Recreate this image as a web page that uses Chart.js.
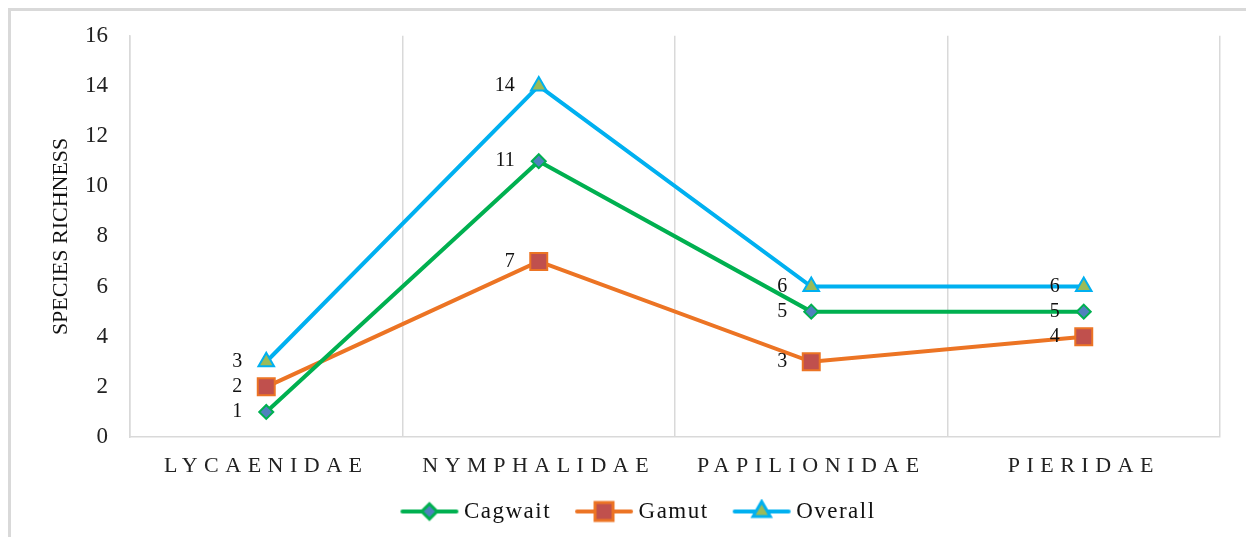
<!DOCTYPE html>
<html>
<head>
<meta charset="utf-8">
<script src="https://cdn.jsdelivr.net/npm/chart.js@4"></script>
<style>
  html, body { margin: 0; padding: 0; background: #fff; }
  #frame { position: absolute; left: 8px; top: 8px; width: 1260px; height: 560px;
           border-left: 3px solid #d9d9d9; border-top: 3px solid #d9d9d9; }
  #wrap { position: absolute; left: 0; top: 0; width: 1246px; height: 537px; }
</style>
</head>
<body>
<div id="frame"></div>
<div id="wrap"><canvas id="chart"></canvas></div>
<script>
// families on the x axis
const families = ["LYCAENIDAE", "NYMPHALIDAE", "PAPILIONIDAE", "PIERIDAE"];

// species richness per site
const cagwait = [1, 11, 5, 5];
const gamut = [2, 7, 3, 4];
const overall = [3, 14, 6, 6];

const yTicks = [0, 2, 4, 6, 8, 10, 12, 14, 16];

const serif = "'Liberation Serif', 'Times New Roman', serif";

// little line + marker picture for the legend
function legendIcon(color, fill, style, r) {
  const c = document.createElement("canvas");
  c.width = 84;
  c.height = 26;
  const ctx = c.getContext("2d");
  ctx.strokeStyle = color;
  ctx.lineWidth = 4;
  ctx.lineCap = "round";
  ctx.beginPath();
  ctx.moveTo(22, 13);
  ctx.lineTo(76, 13);
  ctx.stroke();
  Chart.helpers.drawPoint(ctx, { pointStyle: style, radius: r, rotation: 0, borderWidth: 2 }, 49, 13);
  ctx.fillStyle = fill;
  ctx.fill();
  ctx.lineWidth = 2;
  ctx.stroke();
  return c;
}

// numbers written to the left of each point
const pointLabels = {
  id: "pointLabels",
  afterDatasetsDraw(chart) {
    const ctx = chart.ctx;
    ctx.save();
    ctx.font = "20px " + serif;
    ctx.fillStyle = "#111";
    ctx.textAlign = "right";
    ctx.textBaseline = "middle";
    chart.data.datasets.forEach((ds, i) => {
      chart.getDatasetMeta(i).data.forEach((pt, j) => {
        ctx.fillText(String(ds.data[j]), pt.x - 24, pt.y);
      });
    });
    ctx.restore();
  },
};

function withSpacing(obj, name, px) {
  const orig = obj[name].bind(obj);
  obj[name] = function () {
    const ctx = this.ctx;
    ctx.save();
    ctx.letterSpacing = px;
    const r = orig.apply(null, arguments);
    ctx.restore();
    return r;
  };
}

// spaced-out capitals on the category axis, slightly spaced legend text
const spacing = {
  id: "spacing",
  beforeLayout(chart) {
    if (chart.legend && !chart.legend._spaced) {
      withSpacing(chart.legend, "fit", "1.5px");
      withSpacing(chart.legend, "draw", "1.5px");
      chart.legend._spaced = true;
    }
  },
  afterLayout(chart) {
    const s = chart.scales.x;
    if (s._spaced) return;
    withSpacing(s, "drawLabels", "6.5px");
    s._spaced = true;
  },
};

const datasets = [
  {
    label: "Cagwait",
    data: cagwait,
    borderColor: "#00b050",
    backgroundColor: "#4f81bd",
    pointBackgroundColor: "#4f81bd",
    pointBorderColor: "#00b050",
    pointStyle: "rectRot",
    pointRadius: 7,
    icon: ["#00b050", "#4f81bd", "rectRot", 7],
  },
  {
    label: "Gamut",
    data: gamut,
    borderColor: "#ec7424",
    backgroundColor: "#c0504d",
    pointBackgroundColor: "#c0504d",
    pointBorderColor: "#ec7424",
    pointStyle: "rect",
    pointRadius: 12,
    icon: ["#ec7424", "#c0504d", "rect", 12],
  },
  {
    label: "Overall",
    data: overall,
    borderColor: "#00b0f0",
    backgroundColor: "#9bbb59",
    pointBackgroundColor: "#9bbb59",
    pointBorderColor: "#00b0f0",
    pointStyle: "triangle",
    pointRadius: 9,
    icon: ["#00b0f0", "#9bbb59", "triangle", 9],
  },
];

datasets.forEach((d) => {
  d.borderWidth = 4;
  d.pointBorderWidth = 2;
  d.tension = 0;
  d.fill = false;
});

new Chart(document.getElementById("chart"), {
  type: "line",
  data: { labels: families, datasets: datasets },
  plugins: [pointLabels, spacing],
  options: {
    responsive: true,
    maintainAspectRatio: false,
    animation: false,
    events: [],
    layout: { padding: { left: 48, right: 26, top: 21, bottom: 4 } },
    plugins: {
      tooltip: { enabled: false },
      legend: {
        position: "bottom",
        labels: {
          usePointStyle: true,
          pointStyleWidth: 60,
          padding: 16,
          color: "#111",
          font: { family: serif, size: 23 },
          generateLabels(chart) {
            return chart.data.datasets.map((ds, i) => ({
              text: ds.label,
              datasetIndex: i,
              pointStyle: legendIcon.apply(null, ds.icon),
              fillStyle: ds.backgroundColor,
              strokeStyle: ds.borderColor,
              lineWidth: 0,
              hidden: false,
              fontColor: "#111",
            }));
          },
        },
      },
    },
    scales: {
      x: {
        offset: true,
        grid: { color: "#d9d9d9", lineWidth: 1.5, drawTicks: false, offset: true },
        border: { color: "#d9d9d9", width: 1.5 },
        ticks: { color: "#222", padding: 16, font: { family: serif, size: 22 } },
        afterFit(s) { s.height = 47; },
      },
      y: {
        min: 0,
        max: 16,
        afterBuildTicks(s) { s.ticks = yTicks.map((v) => ({ value: v })); },
        grid: { display: false, drawTicks: false },
        border: { color: "#d9d9d9", width: 1.5 },
        ticks: { color: "#222", padding: 22, font: { family: serif, size: 23 } },
        title: {
          display: true,
          text: "SPECIES RICHNESS",
          color: "#111",
          padding: 0,
          font: { family: serif, size: 22 },
        },
        afterFit(s) { s.width = 82; },
      },
    },
  },
});
</script>
</body>
</html>
